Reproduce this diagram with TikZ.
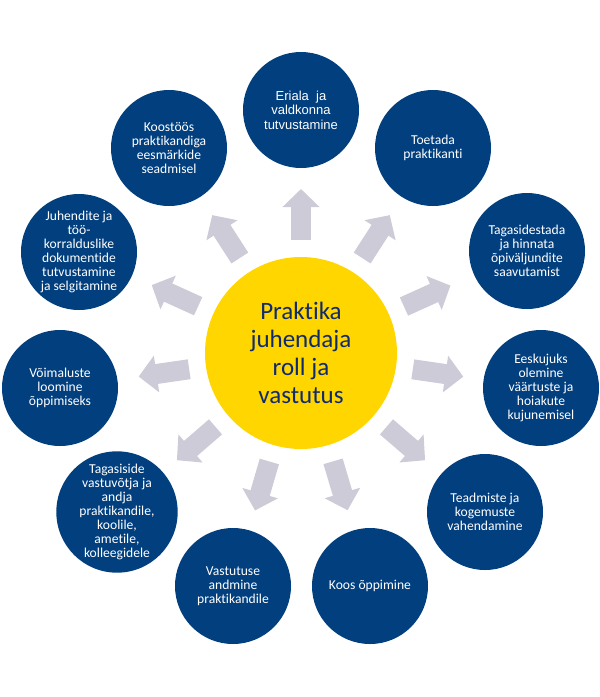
\documentclass[tikz,border=0pt]{standalone}
\usepackage{fontspec}
\setmainfont{Carlito}[Ligatures=CommonOff]
\newfontfamily\arialfont{Liberation Sans}
\usetikzlibrary{arrows.meta,calc}

\definecolor{navyblue}{RGB}{2,63,126}
\definecolor{sunyellow}{RGB}{255,214,0}
\definecolor{hubtext}{RGB}{16,42,110}
\definecolor{arrowgrey}{RGB}{204,203,215}

\tikzset{
  role/.style={circle, fill=navyblue, minimum size=116pt, inner sep=0pt,
    text=white, align=center, font=\fontsize{13.6}{14}\selectfont},
  hub/.style={circle, fill=sunyellow, minimum size=192pt, inner sep=0pt,
    text=hubtext, align=center, font=\fontsize{25}{28}\selectfont},
  flow/.style={draw=arrowgrey, line width=20pt,
    -{Triangle[width=36pt,length=18pt]}}
}

\begin{document}
\begin{tikzpicture}[x=1pt,y=-1pt]
\useasboundingbox (0,0) rectangle (600,697);

\node[hub] (hub) at (301,353) {Praktika\\juhendaja\\roll ja\\vastutus};

\node[role, font=\arialfont\fontsize{13}{14.5}\selectfont] (r1) at (301,110) {Eriala~~ja\\valdkonna\\tutvustamine};
\node[role] (r2) at (433,148) {Toetada\\praktikanti};
\node[role] (r3) at (527,251) {Tagasidestada\\ja hinnata\\õpiväljundite\\saavutamist};
\node[role] (r4) at (541,388) {Eeskujuks\\olemine\\väärtuste ja\\hoiakute\\kujunemisel};
\node[role] (r5) at (485,512) {Teadmiste ja\\kogemuste\\vahendamine};
\node[role] (r6) at (370,586) {Koos õppimine};
\node[role] (r7) at (233,586) {Vastutuse\\andmine\\praktikandile};
\node[role] (r8) at (117,512) {Tagasiside\\vastuvõtja ja\\andja\\praktikandile,\\koolile,\\ametile,\\kolleegidele};
\node[role] (r9) at (60,388) {Võimaluste\\loomine\\õppimiseks};
\node[role] (r10) at (79,252) {Juhendite ja\\töö-\\korralduslike\\dokumentide\\tutvustamine\\ja selgitamine};
\node[role] (r11) at (169,148) {Koostöös\\praktikandiga\\eesmärkide\\seadmisel};

% grey arrows from the hub out to each role
\foreach \i in {1,...,11}
  \draw[flow] ($(hub)!113pt!(r\i)$) -- ($(hub)!164pt!(r\i)$);
\end{tikzpicture}
\end{document}
